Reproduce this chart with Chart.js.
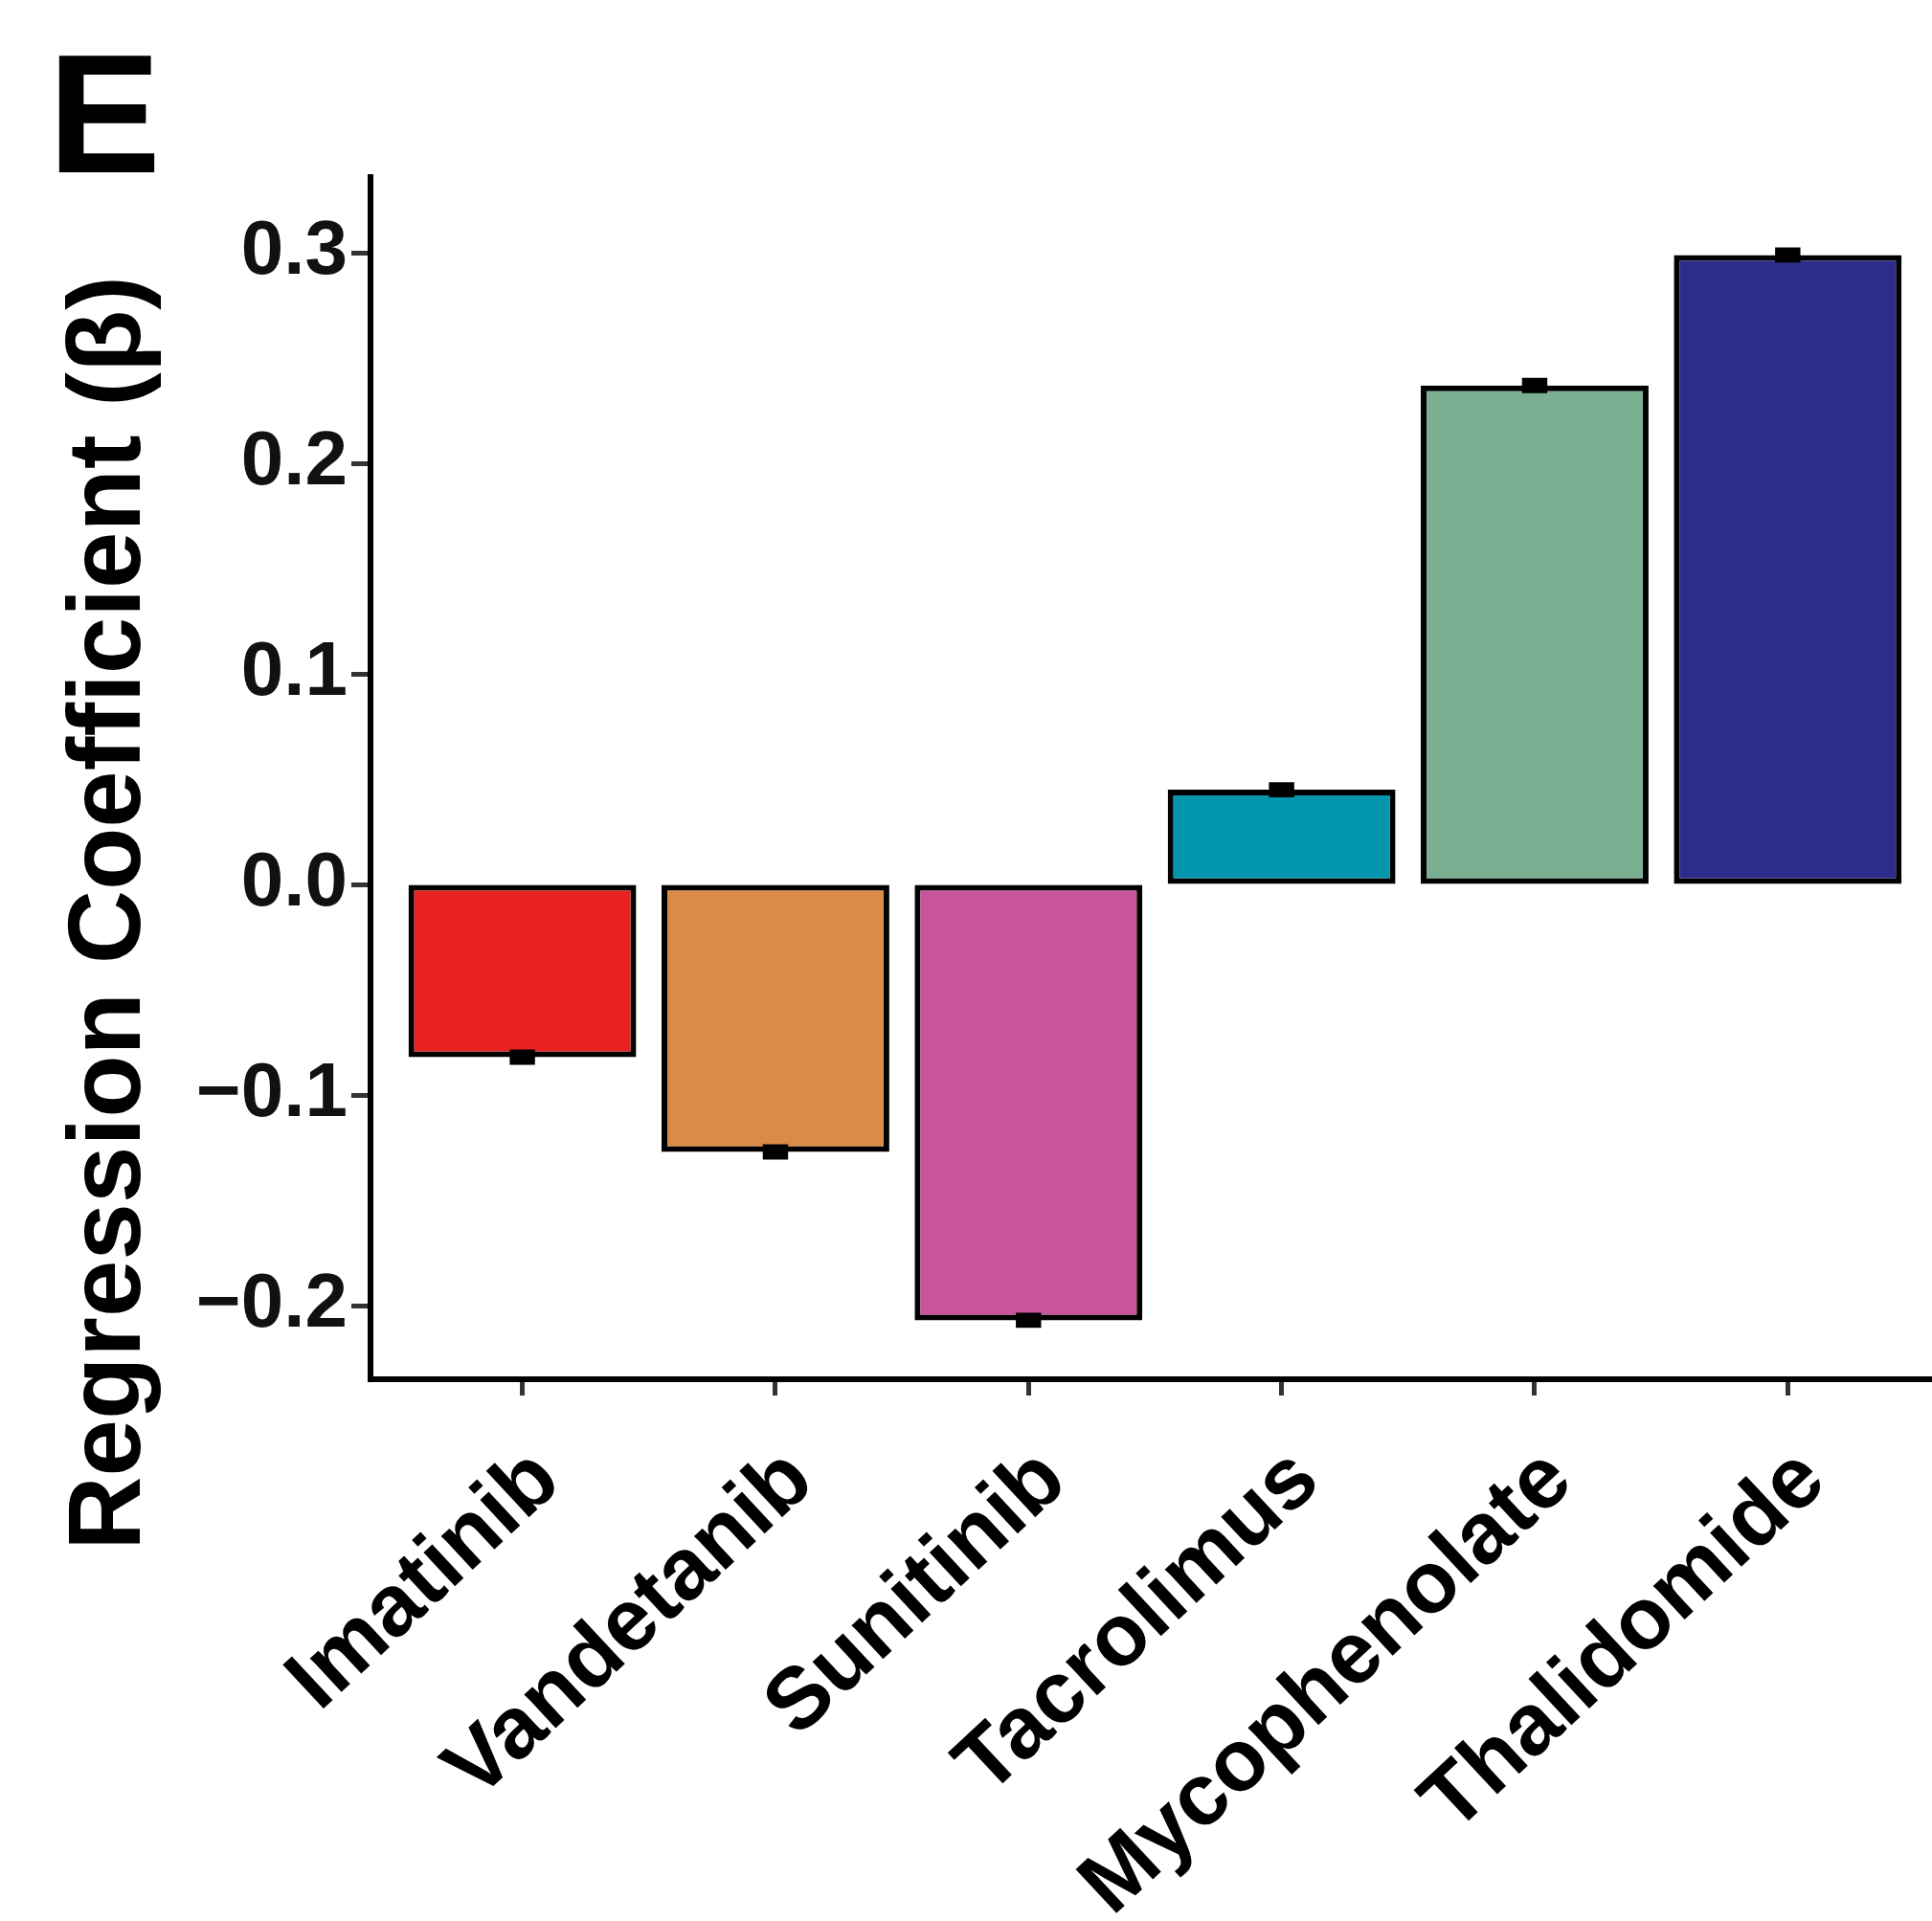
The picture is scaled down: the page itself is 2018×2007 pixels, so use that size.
<!DOCTYPE html>
<html>
<head>
<meta charset="utf-8">
<script src="https://cdn.jsdelivr.net/npm/chart.js@4"></script>
<style>
  html, body { margin: 0; padding: 0; background: #fff; overflow: hidden; }
  canvas { display: block; }
</style>
</head>
<body>
<canvas id="chart" width="2018" height="2007"></canvas>
<script>
const drugs = ["Imatinib", "Vandetanib", "Sunitinib", "Tacrolimus", "Mycophenolate", "Thalidomide"];
const beta = [-0.082, -0.127, -0.207, 0.045, 0.237, 0.299];
const betaErr = [0.0018, 0.0018, 0.0018, 0.0018, 0.0018, 0.0018];
const barColors = ["#E82220", "#DA8C46", "#C8559A", "#0396AC", "#7AAF92", "#2E2C8B"];
const yTicks = [-0.2, -0.1, 0.0, 0.1, 0.2, 0.3];

const FONT = "'Liberation Sans', Arial, sans-serif";

// small black error bars on the end of every bar
const errorBars = {
  id: "errorBars",
  afterDatasetsDraw(chart) {
    const { ctx, scales: { x, y } } = chart;
    ctx.save();
    ctx.strokeStyle = "#000";
    ctx.lineWidth = 8;
    beta.forEach((v, i) => {
      const left = x.getPixelForValue(i - 0.05);
      const right = x.getPixelForValue(i + 0.05);
      const mid = x.getPixelForValue(i);
      const lo = y.getPixelForValue(v - betaErr[i]);
      const hi = y.getPixelForValue(v + betaErr[i]);
      ctx.beginPath();
      ctx.moveTo(left, lo); ctx.lineTo(right, lo);
      ctx.moveTo(left, hi); ctx.lineTo(right, hi);
      ctx.moveTo(mid, lo); ctx.lineTo(mid, hi);
      ctx.stroke();
    });
    ctx.restore();
  }
};

// panel letter and y axis title
const panelText = {
  id: "panelText",
  afterDraw(chart) {
    const ctx = chart.ctx;
    ctx.save();
    ctx.fillStyle = "#000";
    ctx.textBaseline = "alphabetic";
    ctx.font = `bold 177px ${FONT}`;
    ctx.textAlign = "left";
    ctx.fillText("E", 50, 180);

    ctx.font = `bold 107px ${FONT}`;
    ctx.translate(146, 954);
    ctx.rotate(-Math.PI / 2);
    ctx.textAlign = "center";
    ctx.fillText("Regression Coefficient (β)", 0, 0);
    ctx.restore();
  }
};

new Chart(document.getElementById("chart"), {
  type: "bar",
  data: {
    datasets: [{
      data: drugs.map((d, i) => ({ x: i, y: beta[i] })),
      backgroundColor: barColors,
      borderColor: "#000",
      borderWidth: 6,
      borderSkipped: false,
      barPercentage: 0.9,
      categoryPercentage: 1.0
    }]
  },
  options: {
    responsive: false,
    animation: false,
    layout: { padding: { top: 185, left: 0, right: 0, bottom: 0 } },
    plugins: {
      legend: { display: false },
      tooltip: { enabled: false }
    },
    scales: {
      x: {
        type: "linear",
        offset: false,
        min: -0.6,
        max: 5.57,
        afterBuildTicks: (s) => { s.ticks = drugs.map((d, i) => ({ value: i })); },
        afterFit: (s) => { s.height = 566; },
        grid: {
          offset: false,
          drawOnChartArea: false,
          drawTicks: true,
          tickLength: 17,
          tickWidth: 5,
          tickColor: "#333"
        },
        border: { display: true, color: "#000", width: 6 },
        ticks: {
          autoSkip: false,
          minRotation: 43,
          maxRotation: 43,
          padding: 35,
          labelOffset: 26,
          color: "#000",
          font: { family: FONT, size: 91, weight: "bold" },
          callback: (v) => drugs[v]
        }
      },
      y: {
        min: -0.235,
        max: 0.336,
        afterBuildTicks: (s) => { s.ticks = yTicks.map((v) => ({ value: v })); },
        afterFit: (s) => { s.width = 387; },
        grid: {
          drawOnChartArea: false,
          drawTicks: true,
          tickLength: 20,
          tickWidth: 5,
          tickColor: "#333"
        },
        border: { display: true, color: "#000", width: 6 },
        ticks: {
          padding: 4,
          color: "#111",
          font: { family: FONT, size: 80, weight: "bold" },
          callback: (v) => (v < 0 ? "\u2212" : "") + Math.abs(v).toFixed(1)
        }
      }
    }
  },
  plugins: [errorBars, panelText]
});
</script>
</body>
</html>
